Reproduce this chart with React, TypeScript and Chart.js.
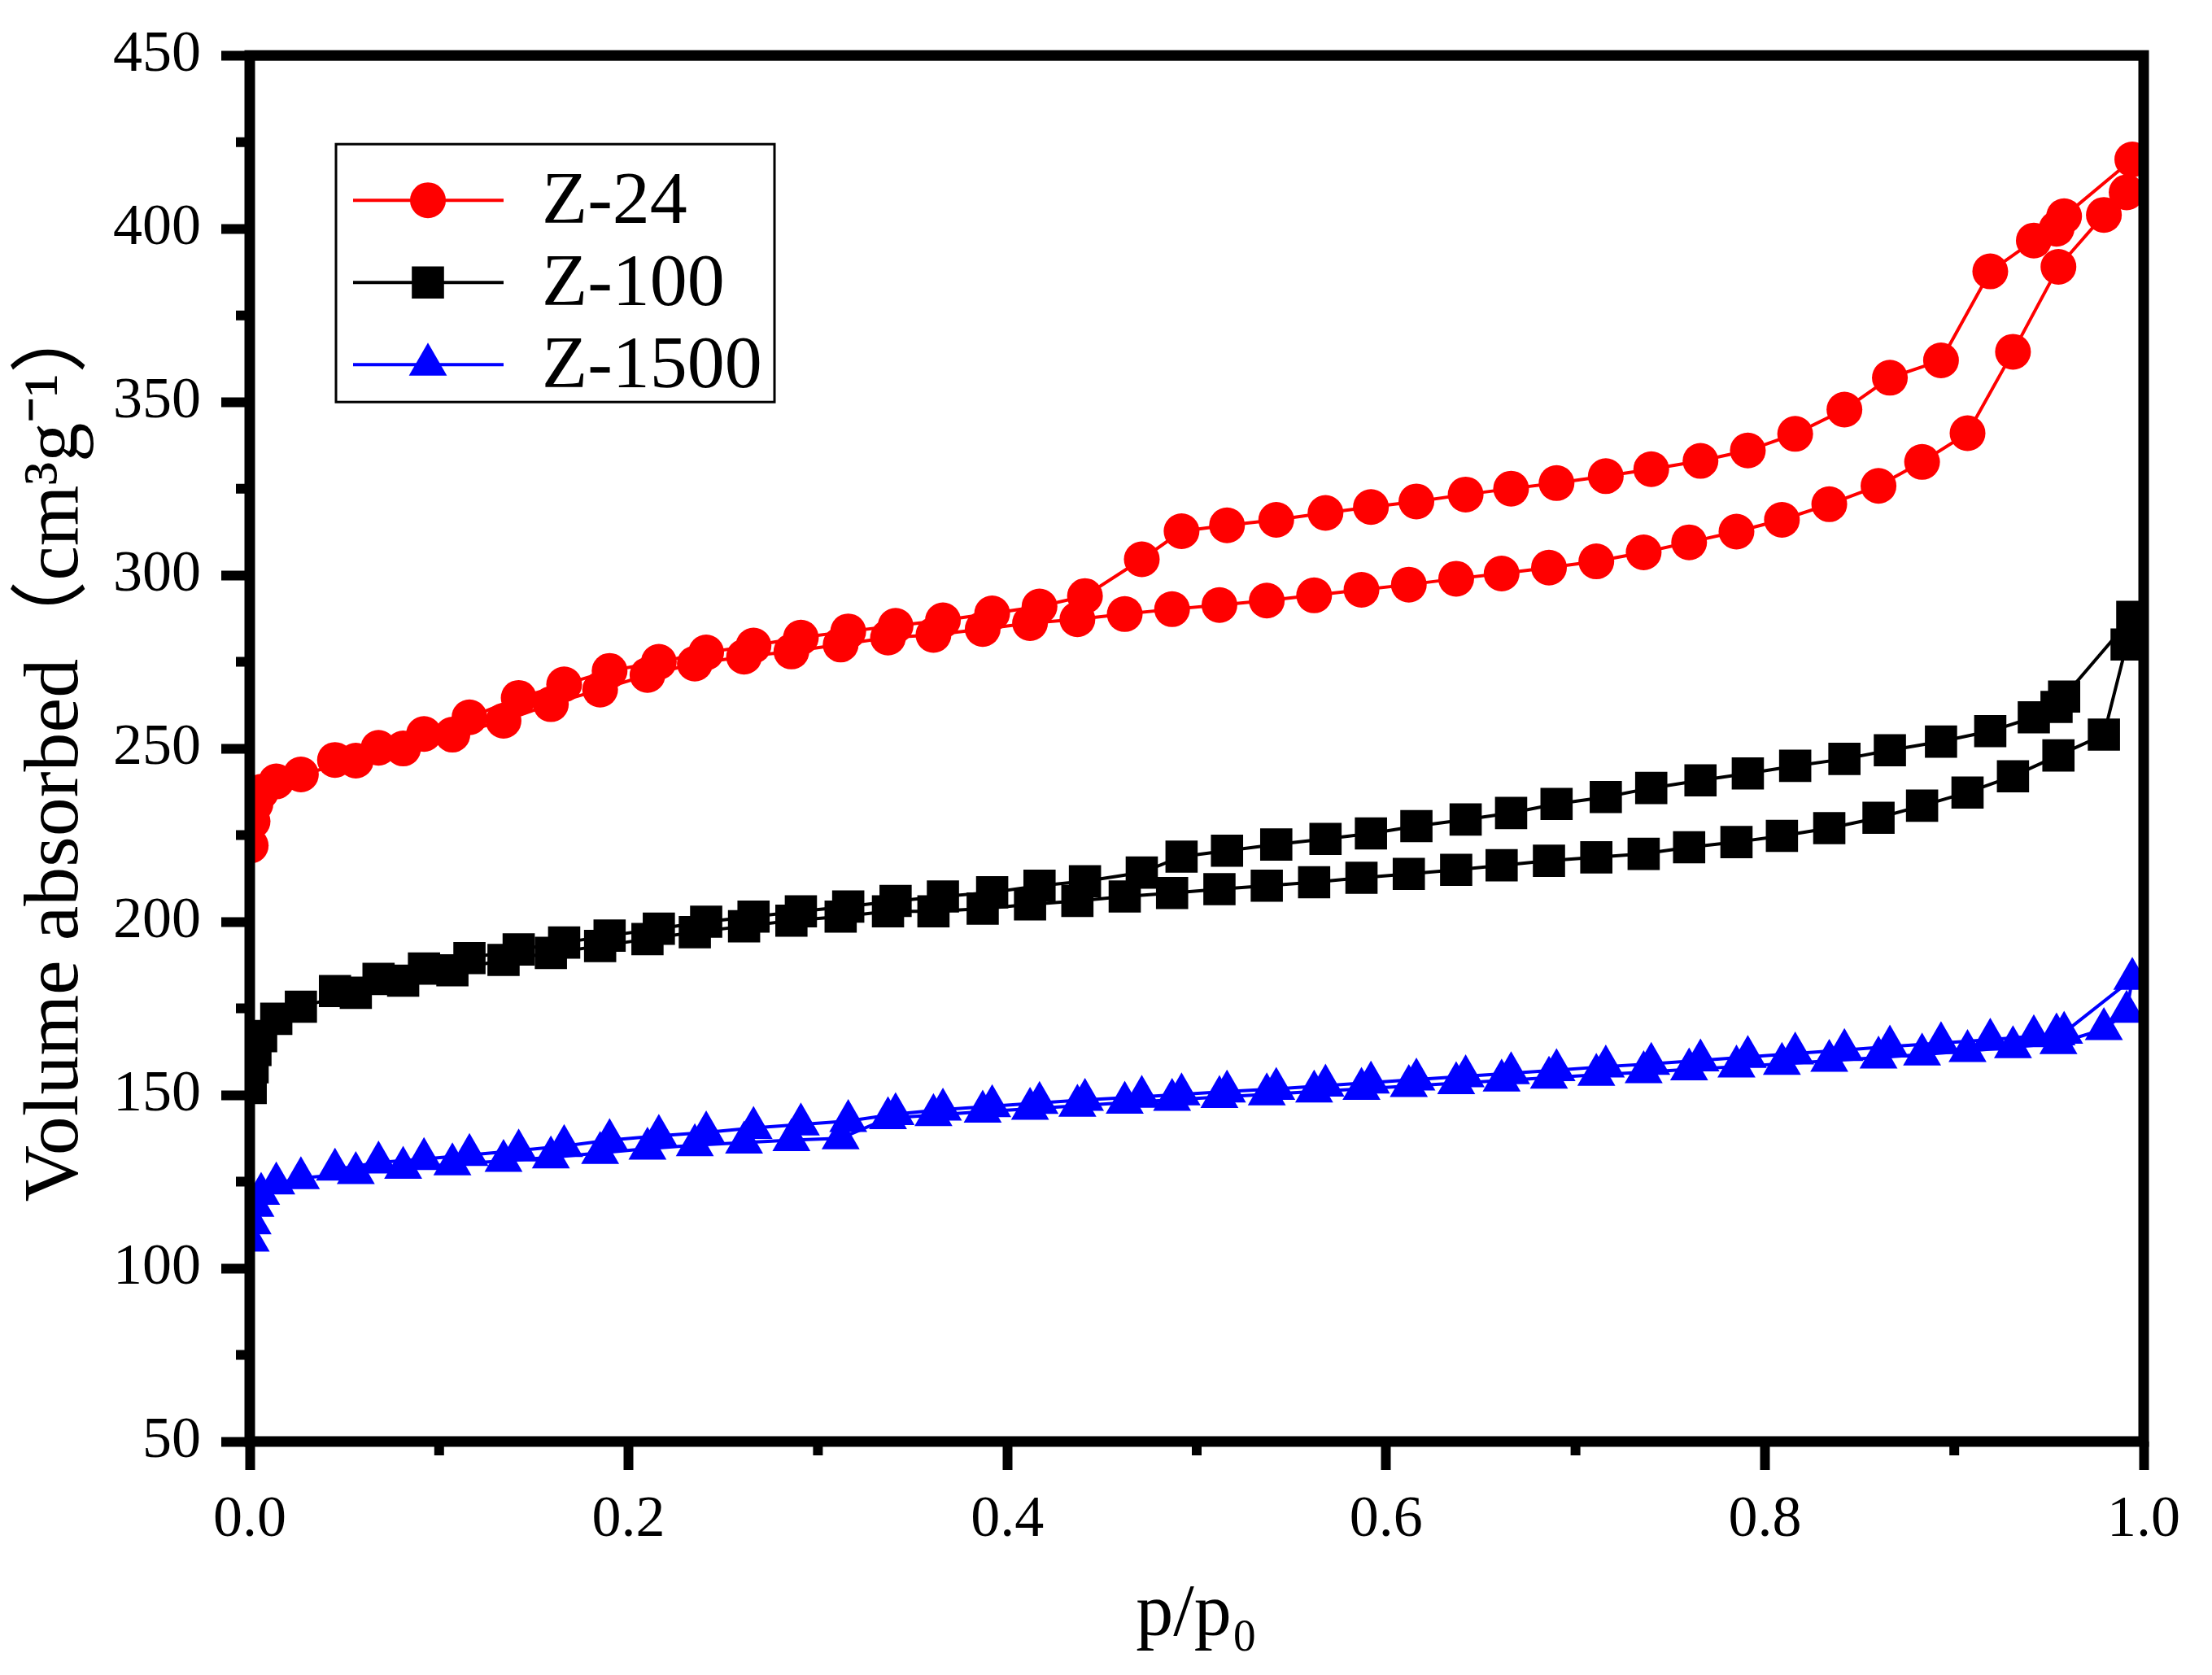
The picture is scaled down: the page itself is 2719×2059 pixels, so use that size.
import { useEffect, useRef } from "react"
import { Chart, registerables } from "chart.js"

Chart.register(...registerables)

// relative pressure p/p0 of the adsorption branch (same for every sample)
const pAds = [
  0.0005, 0.0015, 0.003, 0.006, 0.014, 0.027, 0.056, 0.081, 0.107, 0.134,
  0.159, 0.185, 0.21, 0.235, 0.261, 0.286, 0.312, 0.337, 0.361, 0.387,
  0.412, 0.437, 0.462, 0.487, 0.512, 0.537, 0.562, 0.587, 0.612, 0.637,
  0.661, 0.686, 0.711, 0.736, 0.76, 0.785, 0.809, 0.834, 0.86, 0.883,
  0.907, 0.931, 0.955, 0.979, 0.991,
]
// relative pressure of the desorption branch, high to low
const pDes = [
  0.994, 0.958, 0.954, 0.942, 0.919, 0.893, 0.866, 0.842, 0.816, 0.791,
  0.766, 0.74, 0.716, 0.69, 0.666, 0.642, 0.616, 0.592, 0.568, 0.542,
  0.516, 0.492, 0.471, 0.441, 0.417, 0.392, 0.366, 0.341, 0.316, 0.291,
  0.266, 0.241, 0.216, 0.19, 0.166, 0.142, 0.116, 0.092, 0.068, 0.045,
]

const z24Ads = [
  222, 229, 234, 237.5, 240.5, 242.5, 246.5, 250, 254, 258,
  262.8, 267, 271.2, 274.5, 276.5, 278, 280, 282, 282.8, 284.5,
  286.2, 287.3, 288.8, 290.2, 291.4, 292.7, 294.2, 295.8, 297.3, 299,
  300.5, 302.2, 304, 306.6, 309.5, 312.6, 316, 320.5, 325.8, 332.7,
  341, 364.5, 389, 404, 410.5,
]
const z24Des = [
  420, 403.6, 400, 396.6, 387.7, 362, 357, 347.8, 340.8, 336,
  333, 330.6, 328.6, 326.6, 325, 323.3, 321.3, 319.7, 318, 316,
  314.4, 312.7, 304.6, 294, 291, 289, 287, 285.4, 283.8, 282,
  279.7, 277.7, 275, 272.4, 268.5, 264.6, 259, 254.2, 250.2, 246.7,
]

const z100Ads = [
  152, 158, 163, 167, 172, 175.5, 179.5, 183, 186, 189,
  191, 193, 195, 197, 198.7, 200.3, 201.5, 203, 203, 203.8,
  205, 206, 207.3, 208.3, 209.4, 210.4, 211.4, 212.7, 213.8, 215,
  216.3, 217.6, 218.6, 219.6, 221.5, 223, 224.8, 227, 230, 233.5,
  237.3, 242, 248, 254, 280,
]
const z100Des = [
  288, 265, 262, 259, 255, 252, 249.5, 247, 245, 242.8,
  240.8, 238.6, 236, 234, 231.4, 229.5, 227.6, 225.5, 223.9, 222.3,
  220.5, 218.8, 214.2, 211.7, 210.4, 208.5, 207.3, 206, 204.4, 203,
  201.5, 200, 198, 196, 194, 192, 189.5, 186.5, 183.5, 180,
]

const z1500Ads = [
  108, 113, 118, 121.5, 124.5, 126, 127.5, 129, 130, 131,
  132, 133.3, 134.5, 135.5, 136.3, 137, 137.5, 143.3, 144.2, 145.2,
  146, 146.9, 147.8, 148.6, 149.4, 150.2, 151, 151.8, 152.6, 153.4,
  154.2, 155, 155.8, 156.6, 157.4, 158.2, 159, 159.9, 160.8, 161.7,
  162.7, 163.8, 165, 169, 174,
]
const z1500Des = [
  183.5, 168, 167.5, 167, 166, 165, 164, 163, 162, 161,
  160, 159, 158.2, 157.2, 156.3, 155.4, 154.5, 153.6, 152.7, 151.8,
  151, 150.2, 149.5, 148.6, 147.7, 146.8, 145.8, 144.5, 142.5, 141.5,
  140.5, 139.2, 138.2, 137, 135.3, 134, 132.7, 131.5, 130.5, 128.5,
]

const seriesLabels = ["Z-24", "Z-100", "Z-1500"]
const seriesColors = ["#ff0000", "#000000", "#0000ff"]

const xTicks = [0, 0.2, 0.4, 0.6, 0.8, 1.0]
const xMinorTicks = [0.1, 0.3, 0.5, 0.7, 0.9]
const yTicks = [50, 100, 150, 200, 250, 300, 350, 400, 450]
const yMinorTicks = [75, 125, 175, 225, 275, 325, 375, 425]

const W = 2719
const H = 2059
const FONT = '"Liberation Serif", "Noto Sans CJK SC", serif'

function branch(ads: number[], des: number[]) {
  return pAds
    .map((p, i) => ({ x: p, y: ads[i] }))
    .concat(pDes.map((p, i) => ({ x: p, y: des[i] })))
}

function drawMarker(ctx: CanvasRenderingContext2D, style: string, x: number, y: number, r: number, color: string) {
  ctx.fillStyle = color
  ctx.beginPath()
  if (style === "rect") {
    const s = r * Math.SQRT1_2
    ctx.rect(x - s, y - s, 2 * s, 2 * s)
  } else if (style === "triangle") {
    ctx.moveTo(x, y - r)
    ctx.lineTo(x + r * 0.866, y + r * 0.5)
    ctx.lineTo(x - r * 0.866, y + r * 0.5)
    ctx.closePath()
  } else {
    ctx.arc(x, y, r, 0, Math.PI * 2)
  }
  ctx.fill()
}

// thick frame round the plot and the short minor ticks
const framePlugin = {
  id: "frame",
  afterDatasetsDraw(chart: any) {
    const { ctx, chartArea: a, scales } = chart
    ctx.save()
    ctx.strokeStyle = "#000"
    ctx.lineWidth = 13
    ctx.strokeRect(a.left, a.top, a.right - a.left, a.bottom - a.top)
    ctx.lineWidth = 12
    ctx.beginPath()
    xMinorTicks.forEach((v) => {
      const x = scales.x.getPixelForValue(v)
      ctx.moveTo(x, a.bottom)
      ctx.lineTo(x, a.bottom + 17)
    })
    yMinorTicks.forEach((v) => {
      const y = scales.y.getPixelForValue(v)
      ctx.moveTo(a.left, y)
      ctx.lineTo(a.left - 17, y)
    })
    ctx.stroke()
    ctx.restore()
  },
}

// boxed legend with line + marker
const legendPlugin = {
  id: "boxLegend",
  afterDraw(chart: any) {
    const { ctx, chartArea: a } = chart
    const left = a.left + 106
    const top = a.top + 109
    ctx.save()
    ctx.fillStyle = "#fff"
    ctx.fillRect(left, top, 539, 317)
    ctx.strokeStyle = "#000"
    ctx.lineWidth = 3
    ctx.strokeRect(left, top, 539, 317)
    chart.data.datasets.forEach((ds: any, i: number) => {
      const y = top + 69 + i * 101
      ctx.strokeStyle = ds.borderColor
      ctx.lineWidth = 4
      ctx.beginPath()
      ctx.moveTo(left + 21, y)
      ctx.lineTo(left + 206, y)
      ctx.stroke()
      drawMarker(ctx, ds.pointStyle, left + 113, y, ds.pointRadius, ds.backgroundColor)
      ctx.fillStyle = "#000"
      ctx.font = `92px ${FONT}`
      ctx.textBaseline = "middle"
      ctx.textAlign = "left"
      ctx.fillText(ds.label, left + 253, y + 4)
    })
    ctx.restore()
  },
}

export default function App() {
  const chartRef = useRef<HTMLCanvasElement>(null)
  const chartInstance = useRef<Chart | null>(null)

  useEffect(() => {
    document.body.style.margin = "0"
    if (!chartRef.current) return
    if (chartInstance.current) chartInstance.current.destroy()

    const values = [branch(z24Ads, z24Des), branch(z100Ads, z100Des), branch(z1500Ads, z1500Des)]
    const styles = ["circle", "rect", "triangle"]
    const radii = [22, 28, 27]

    chartInstance.current = new Chart(chartRef.current, {
      type: "scatter",
      data: {
        datasets: values.map((data, i) => ({
          label: seriesLabels[i],
          data,
          showLine: true,
          borderColor: seriesColors[i],
          backgroundColor: seriesColors[i],
          borderWidth: 4,
          pointStyle: styles[i],
          pointRadius: radii[i],
          pointBorderWidth: 0,
          pointBackgroundColor: seriesColors[i],
          tension: 0,
          clip: 0,
        })),
      },
      options: {
        responsive: false,
        devicePixelRatio: 1,
        animation: false,
        events: [],
        layout: { padding: { top: 66, right: 84, left: 0, bottom: 0 } },
        plugins: {
          legend: { display: false },
          tooltip: { enabled: false },
        },
        scales: {
          x: {
            type: "linear",
            min: 0,
            max: 1,
            afterBuildTicks: (s: any) => {
              s.ticks = xTicks.map((v) => ({ value: v }))
            },
            afterFit: (s: any) => {
              s.height = 287
            },
            ticks: {
              font: { family: FONT, size: 72 },
              color: "#000",
              padding: 19,
              maxRotation: 0,
              callback: (v: any) => Number(v).toFixed(1),
            },
            grid: { drawOnChartArea: false, drawTicks: true, tickLength: 35, tickWidth: 12, tickColor: "#000" },
            border: { display: false },
            title: {
              display: true,
              text: "p/p₀",
              font: { family: FONT, size: 92 },
              color: "#000",
              padding: { top: 0, bottom: 18 },
            },
          },
          y: {
            type: "linear",
            min: 50,
            max: 450,
            afterBuildTicks: (s: any) => {
              s.ticks = yTicks.map((v) => ({ value: v }))
            },
            afterFit: (s: any) => {
              s.width = 307
            },
            ticks: { font: { family: FONT, size: 72 }, color: "#000", padding: 25 },
            grid: { drawOnChartArea: false, drawTicks: true, tickLength: 35, tickWidth: 12, tickColor: "#000" },
            border: { display: false },
            title: {
              display: true,
              text: "Volume absorbed（cm³g⁻¹）",
              font: { family: FONT, size: 96 },
              color: "#000",
              padding: { top: 12, bottom: 0 },
            },
          },
        },
      },
      plugins: [framePlugin, legendPlugin],
    } as any)

    return () => {
      if (chartInstance.current) {
        chartInstance.current.destroy()
        chartInstance.current = null
      }
    }
  }, [])

  return (
    <div style={{ width: W, height: H, background: "#fff" }}>
      <canvas ref={chartRef} width={W} height={H} style={{ width: W, height: H }} />
    </div>
  )
}
